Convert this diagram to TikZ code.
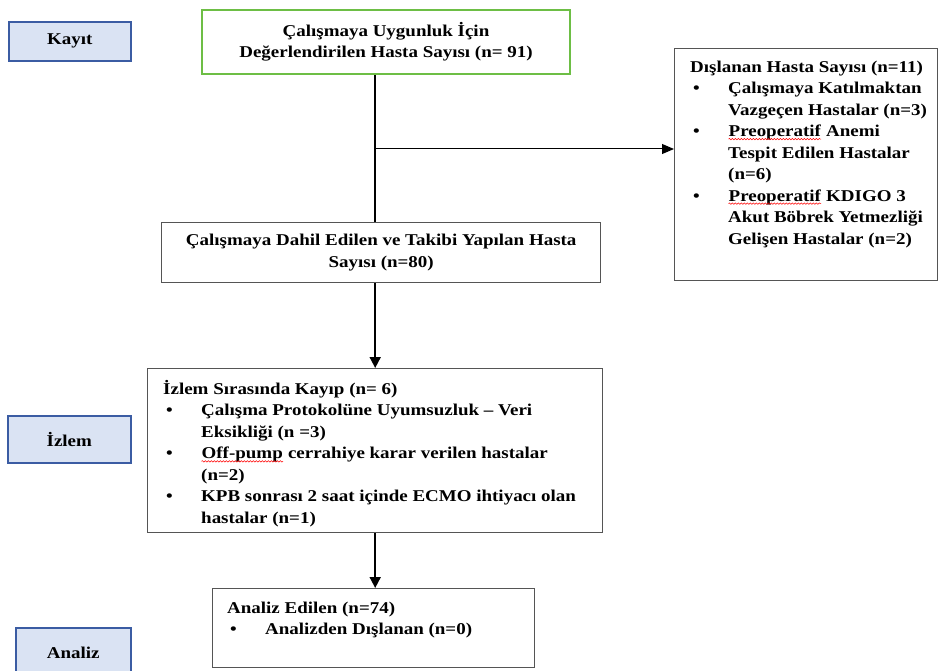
\documentclass[tikz,border=0pt]{standalone}
\usepackage{fontspec}
\setmainfont{Liberation Serif}[FakeStretch=1.15]
\usetikzlibrary{arrows.meta,decorations.pathmorphing}
\definecolor{tagfill}{HTML}{DAE3F3}
\definecolor{tagline}{HTML}{3B5CA3}
\definecolor{boxline}{HTML}{555555}
\definecolor{startline}{HTML}{6DBE45}
\newcommand{\bitem}{\makebox[38pt][l]{\hspace{3pt}\textbullet}}
\newcommand{\bcont}{\makebox[38pt]{}}
\newcommand{\spell}[1]{\tikz[baseline=(w.base)]{\node[inner sep=0pt] (w) {#1};
  \draw[red, line width=0.5pt, decorate, decoration={snake, amplitude=0.7pt, segment length=3pt}]
  ([yshift=-2.5pt]w.base west) -- ([yshift=-2.5pt]w.base east);}}
\begin{document}
\begin{tikzpicture}[x=1pt, y=-1pt,
  font=\fontsize{16.5}{21.5}\selectfont\bfseries,
  tag/.style={draw=tagline, fill=tagfill, line width=1.6pt, anchor=north west, inner sep=0pt},
  main/.style={draw=boxline, line width=1.4pt, anchor=north west, inner sep=0pt, align=center},
  start/.style={main, draw=startline, line width=2pt},
  txt/.style={anchor=north west, inner sep=0pt, align=left},
  trunk/.style={line width=1.8pt, -{Triangle[length=11pt,width=11pt]}},
  side/.style={line width=1pt, -{Triangle[length=12pt,width=10pt]}}]
\useasboundingbox (0,0) rectangle (940,671);
\node[tag, minimum width=122pt, minimum height=39pt] (kayit) at (8,21) {Kayıt};
\node[tag, minimum width=123pt, minimum height=47pt] (izlem) at (7,415) {İzlem};
\node[tag, minimum width=115pt, minimum height=50pt] (analiz) at (15,627) {Analiz};
\node[start, minimum width=368pt, minimum height=64pt] (uygun) at (201,9)
  {Çalışmaya Uygunluk İçin\\Değerlendirilen Hasta Sayısı (n= 91)};
\node[main, minimum width=439pt, minimum height=60pt] (dahil) at (161,222)
  {Çalışmaya Dahil Edilen ve Takibi Yapılan Hasta\\Sayısı (n=80)};
\node[main, minimum width=263pt, minimum height=232pt] (dislanan) at (674,48) {};
\node[txt] (dislanan-t) at ([shift={(16,12.5)}]dislanan.north west)
  {Dışlanan Hasta Sayısı (n=11)\\\bitem Çalışmaya Katılmaktan\\\bcont Vazgeçen Hastalar (n=3)\\\bitem \spell{Preoperatif} Anemi\\\bcont Tespit Edilen Hastalar\\\bcont (n=6)\\\bitem \spell{Preoperatif} KDIGO 3\\\bcont Akut Böbrek Yetmezliği\\\bcont Gelişen Hastalar (n=2)};
\node[txt] (kayip-t) at (163,380)
  {İzlem Sırasında Kayıp (n= 6)\\\bitem Çalışma Protokolüne Uyumsuzluk – Veri\\\bcont Eksikliği (n =3)\\\bitem \spell{Off-pump} cerrahiye karar verilen hastalar\\\bcont (n=2)\\\bitem KPB sonrası 2 saat içinde ECMO ihtiyacı olan\\\bcont hastalar (n=1)};
\node[main, minimum width=455pt, minimum height=164pt] (kayip) at (147,368) {};
\node[main, minimum width=322pt, minimum height=79pt] (analizedilen) at (212,588) {};
\node[txt] (analizedilen-t) at ([shift={(15,13.5)}]analizedilen.north west)
  {Analiz Edilen (n=74)\\\bitem Analizden Dışlanan (n=0)};
\draw[line width=1.8pt] (uygun.south -| kayip.north) -- (dahil.north -| kayip.north);
\draw[trunk] (dahil.south -| kayip.north) -- (kayip.north);
\draw[trunk] (kayip.south) -- (kayip.south |- analizedilen.north);
\coordinate (branch) at (374,149);
\draw[side] (branch) -- (branch -| dislanan.west);
\end{tikzpicture}
\end{document}
